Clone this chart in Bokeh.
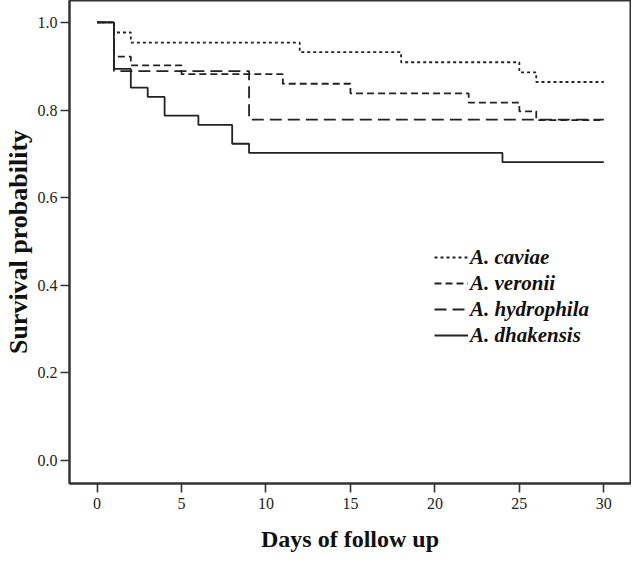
from bokeh.plotting import figure
from bokeh.models import Range1d, FixedTicker, NumeralTickFormatter, Legend, LegendItem
from bokeh.embed import file_html
from bokeh.resources import INLINE

# ---- data ----
caviae_days = [0, 1, 2, 12, 18, 25, 26, 30]
caviae_surv = [1.0, 0.977, 0.954, 0.932, 0.909, 0.886, 0.864, 0.864]

veronii_days = [0, 1, 2, 5, 11, 15, 22, 25, 26, 30]
veronii_surv = [1.0, 0.922, 0.902, 0.882, 0.860, 0.838, 0.817, 0.797, 0.777, 0.777]

hydrophila_days = [0, 1, 9, 30]
hydrophila_surv = [1.0, 0.889, 0.778, 0.778]

dhakensis_days = [0, 1, 2, 3, 4, 6, 8, 9, 24, 30]
dhakensis_surv = [1.0, 0.894, 0.851, 0.830, 0.787, 0.766, 0.723, 0.702, 0.681, 0.681]

series_names = ["A. caviae", "A. veronii", "A. hydrophila", "A. dhakensis"]
x_ticks = [0, 5, 10, 15, 20, 25, 30]
y_ticks = [0.0, 0.2, 0.4, 0.6, 0.8, 1.0]

INK = "#222222"
TICK_FONT = "Liberation Sans Narrow"
SERIF = "Liberation Serif"

p = figure(width=631, height=558, output_backend="svg", toolbar_location=None,
           x_range=Range1d(-1.63, 31.58), y_range=Range1d(-0.0525, 1.050),
           min_border_left=59, min_border_right=1, min_border_top=0, min_border_bottom=75)

p.background_fill_color = "white"
p.border_fill_color = "white"
p.outline_line_color = "#333333"
p.outline_line_width = 2
p.xgrid.visible = False
p.ygrid.visible = False

r1 = p.step(caviae_days, caviae_surv, mode="after", line_color=INK, line_width=1.8, line_dash="3 3")
r2 = p.step(veronii_days, veronii_surv, mode="after", line_color=INK, line_width=1.8, line_dash="7 4")
r3 = p.step(hydrophila_days, hydrophila_surv, mode="after", line_color=INK, line_width=1.8, line_dash="12 6")
r4 = p.step(dhakensis_days, dhakensis_surv, mode="after", line_color=INK, line_width=1.8)

for ax in (p.xaxis[0], p.yaxis[0]):
    ax.axis_line_color = "#333333"
    ax.axis_line_width = 2
    ax.major_tick_line_color = "#333333"
    ax.major_tick_line_width = 1.6
    ax.major_tick_in = 0
    ax.minor_tick_line_color = None
    ax.major_label_text_font = TICK_FONT
    ax.major_label_text_font_size = "16px"
    ax.major_label_text_color = "#222222"
    ax.axis_label_text_font = SERIF
    ax.axis_label_text_font_style = "bold"
    ax.axis_label_text_color = "#111111"

p.xaxis.major_tick_out = 9
p.yaxis.major_tick_out = 9
p.xaxis.axis_label_text_font_size = "24px"
p.yaxis.axis_label_text_font_size = "26px"
p.xaxis.ticker = FixedTicker(ticks=x_ticks)
p.yaxis.ticker = FixedTicker(ticks=y_ticks)
p.yaxis.formatter = NumeralTickFormatter(format="0.0")
p.xaxis.axis_label = "Days of follow up"
p.yaxis.axis_label = "Survival probability"
p.xaxis.major_label_standoff = 5
p.yaxis.major_label_standoff = 3
p.xaxis.axis_label_standoff = 14
p.yaxis.axis_label_standoff = 2

legend = Legend(items=[LegendItem(label=n, renderers=[r]) for n, r in zip(series_names, [r1, r2, r3, r4])],
                location=(365, 135), orientation="vertical")
legend.border_line_color = None
legend.background_fill_alpha = 0
legend.padding = 0
legend.margin = 0
legend.spacing = 0
legend.glyph_width = 34
legend.glyph_height = 26
legend.label_height = 26
legend.label_standoff = 2
legend.label_text_font = SERIF
legend.label_text_font_style = "bold italic"
legend.label_text_font_size = "21px"
legend.label_text_color = "#111111"
p.add_layout(legend, "center")

open("out.html", "w").write(file_html(p, INLINE))
